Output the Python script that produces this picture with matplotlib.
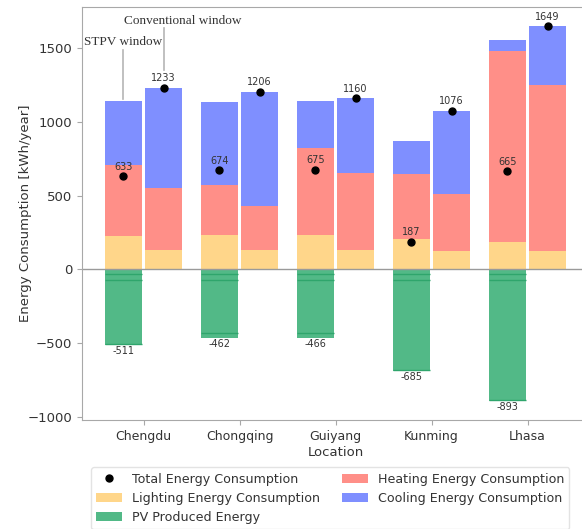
import numpy as np
import matplotlib
matplotlib.use('Agg')
import matplotlib.pyplot as plt

# 各城市年能耗 (kWh/year)
cities = ['Chengdu', 'Chongqing', 'Guiyang', 'Kunming', 'Lhasa']

# STPV 窗
stpv_lighting = [224, 235, 235, 210, 185]
stpv_heating = [484, 336, 591, 435, 1295]
stpv_cooling = [436, 565, 315, 227, 78]
stpv_total = [633, 674, 675, 187, 665]
# 光伏发电（分段叠加）
pv_seg_top = [31, 31, 31, 31, 31]
pv_seg_mid = [38, 38, 38, 38, 38]
pv_produced = [511, 462, 466, 685, 893]
pv_seg_bottom = [6, 32, 36, 6, 6]

# 普通窗
conv_lighting = [133, 133, 133, 127, 122]
conv_heating = [422, 294, 524, 383, 1126]
conv_cooling = [678, 779, 503, 566, 401]
conv_total = [1233, 1206, 1160, 1076, 1649]

c_light = '#ffd68a'
c_heat = '#ff8f88'
c_cool = '#7f8fff'
c_pv = '#52b987'
c_pv_line = '#2fa56c'
txt = '#333333'
spine = '#a8a8a8'

plt.rcParams['font.size'] = 9.5

x = np.arange(len(cities))
w = 0.39
off = 0.21
xs = x - off
xc = x + off

fig = plt.figure(figsize=(5.82, 5.29), dpi=100)
ax = fig.add_axes([0.141, 0.206, 0.871, 0.780])

# STPV 堆叠
s_l = np.array(stpv_lighting)
s_h = np.array(stpv_heating)
s_c = np.array(stpv_cooling)
ax.bar(xs, s_l, w, color=c_light)
ax.bar(xs, s_h, w, bottom=s_l, color=c_heat)
ax.bar(xs, s_c, w, bottom=s_l + s_h, color=c_cool)

# 普通窗堆叠
c_l = np.array(conv_lighting)
c_h = np.array(conv_heating)
c_c = np.array(conv_cooling)
ax.bar(xc, c_l, w, color=c_light, label='Lighting Energy Consumption')
ax.bar(xc, c_h, w, bottom=c_l, color=c_heat, label='Heating Energy Consumption')
ax.bar(xc, c_c, w, bottom=c_l + c_h, color=c_cool, label='Cooling Energy Consumption')

# 光伏发电（负值）
pv = np.array(pv_produced)
ax.bar(xs, -pv, w, color=c_pv, label='PV Produced Energy')
top1 = -np.array(pv_seg_top)
top2 = top1 - np.array(pv_seg_mid)
bot = -pv + np.array(pv_seg_bottom)
for yy in (top1, top2, bot):
    ax.hlines(yy, xs - w / 2, xs + w / 2, color=c_pv_line, lw=1.0)
for xi, v in zip(xs, pv):
    ax.text(xi, -v - 8, f'-{v}', ha='center', va='top', fontsize=7, color=txt)

# 总能耗
ax.plot(xs, stpv_total, 'o', color='black', ms=5, label='Total Energy Consumption')
ax.plot(xc, conv_total, 'o', color='black', ms=5)
for xi, v in zip(np.concatenate([xs, xc]), stpv_total + conv_total):
    ax.text(xi, v + 30, str(v), ha='center', va='bottom', fontsize=7, color=txt)

ax.axhline(0, color='#9a9a9a', lw=1.0)

# 窗型标注
stpv_top = (s_l + s_h + s_c)[0]
ax.plot([xs[0], xs[0]], [stpv_top + 8, 1490], color='#b5b5b5', lw=1.2)
ax.text(xs[0], 1500, 'STPV window', ha='center', va='bottom',
        family='Liberation Serif', fontsize=9.5, color=txt)
ax.plot([xc[0], xc[0]], [conv_total[0] + 120, 1635], color='#b5b5b5', lw=1.2)
ax.text(xc[0] - 0.41, 1645, 'Conventional window', ha='left', va='bottom',
        family='Liberation Serif', fontsize=9.5, color=txt)

ax.set_xlim(-0.64, 4.64)
ax.set_ylim(-1020, 1776)
ax.set_xticks(x)
ax.set_xticklabels(cities, fontsize=9)
ax.set_yticks([-1000, -500, 0, 500, 1000, 1500])
ax.set_yticklabels(['\u22121000', '\u2212500', '0', '500', '1000', '1500'])
ax.set_xlabel('Location', color=txt, labelpad=2)
ax.set_ylabel('Energy Consumption [kWh/year]', color=txt, labelpad=-3)
ax.tick_params(colors=spine, labelcolor=txt)
for sp in ax.spines.values():
    sp.set_color(spine)

handles, labels = ax.get_legend_handles_labels()
order = ['Total Energy Consumption', 'Lighting Energy Consumption', 'PV Produced Energy',
         'Heating Energy Consumption', 'Cooling Energy Consumption']
hmap = dict(zip(labels, handles))
leg = ax.legend([hmap[k] for k in order], order, ncol=2, loc='upper left',
                bbox_to_anchor=(0.018, -0.115), borderaxespad=0, frameon=True,
                fontsize=9.1, columnspacing=1.8)
leg.get_frame().set_edgecolor('#dddddd')
for t in leg.get_texts():
    t.set_color(txt)

fig.savefig('out.png', dpi=100)
